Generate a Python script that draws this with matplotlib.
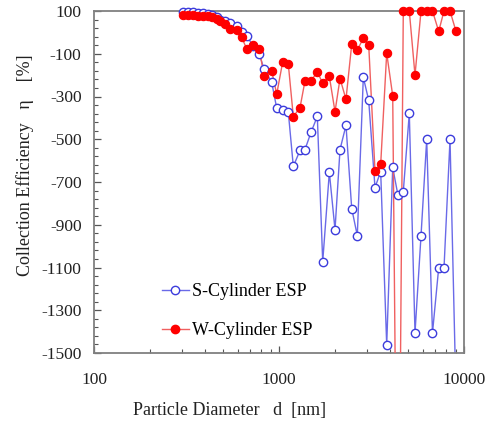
import numpy as np
import matplotlib
matplotlib.use("Agg")
import matplotlib.pyplot as plt
from matplotlib.lines import Line2D
from matplotlib.ticker import FixedLocator, LogLocator, NullFormatter

plt.rcParams['font.family'] = ['Liberation Serif', 'DejaVu Serif']

# particle diameter bins [nm]
diam = np.array([304, 323, 344, 366, 390, 415, 433, 461, 480, 511,
                 543, 591, 629, 669, 726, 783, 830, 913, 972, 1047,
                 1123, 1195, 1299, 1382, 1489, 1611, 1723, 1871, 2008, 2137,
                 2302, 2472, 2650, 2856, 3054, 3303, 3545, 3821, 4118, 4398,
                 4697, 5062, 5434, 5857, 6286, 6755, 7299, 7798, 8403, 9053])

# collection efficiency [%]
s_cyl = np.array([95, 95, 93, 91, 91, 86, 81, 72, 58, 53,
                  44, 30, 1, -17, -64, -102, -172, -233, -355, -365,
                  -374, -627, -552, -548, -468, -393, -1073, -655, -923, -548,
                  -435, -824, -951, -210, -318, -726, -651, -1462, -632, -763,
                  -745, -379, -1406, -951, -501, -1406, -1101, -1101, -501, -1700])

w_cyl = np.array([83, 83, 81, 78, 78, 75, 70, 62, 55, 39,
                  16, 11, -23, -78, -58, -78, -204, -180, -289, -138,
                  -149, -394, -352, -227, -227, -185, -238, -206, -371, -216,
                  -313, -56, -82, -28, -58, -649, -618, -97, -297, -3000,
                  100, 100, -200, 100, 100, 100, 5, 100, 100, 5])

y_ticks = [100, -100, -300, -500, -700, -900, -1100, -1300, -1500]
x_ticks = [100, 1000, 10000]

blue_line = '#6a6ae8'
blue_mk = '#3c3cdc'
red_line = '#f06060'
red_mk = '#ff0000'

fig = plt.figure(figsize=(4.9, 4.21), dpi=100)
ax = fig.add_axes([94/490, 1-353/421, 370/490, 342/421])

ymin, ymax = -1500, 100

# lines (clipped) and markers (not clipped, only in range)
ax.plot(diam, s_cyl, '-', color=blue_line, lw=1.0, zorder=2)
ax.plot(diam, w_cyl, '-', color=red_line, lw=1.0, zorder=3)
m = (s_cyl >= ymin) & (s_cyl <= ymax)
ax.plot(diam[m], s_cyl[m], 'o', ms=6, mfc='white', mec=blue_mk, mew=1.0,
        clip_on=False, zorder=4)
m = (w_cyl >= ymin) & (w_cyl <= ymax)
ax.plot(diam[m], w_cyl[m], 'o', ms=6, mfc=red_mk, mec=red_mk, mew=0.8,
        clip_on=False, zorder=5)

ax.set_xscale('log')
ax.set_xlim(100, 10000)
ax.set_ylim(ymin, ymax)
ax.set_xticks(x_ticks)
ax.set_xticklabels([str(t) for t in x_ticks])
ax.xaxis.set_minor_locator(LogLocator(base=10, subs=np.arange(2, 10)))
ax.xaxis.set_minor_formatter(NullFormatter())
ax.set_yticks(y_ticks)
ax.set_yticklabels([str(t) for t in y_ticks])
ax.yaxis.set_minor_locator(FixedLocator(np.arange(100, -1501, -40)))

ax.tick_params(which='both', direction='in', colors='#555555',
               labelcolor='#222222', labelsize=12.5, top=False, right=False)
ax.tick_params(which='major', length=5, width=0.9)
ax.tick_params(axis='y', which='major', pad=9)
ax.tick_params(axis='x', which='major', pad=14)
ax.tick_params(which='minor', length=3, width=0.8)
for s in ax.spines.values():
    s.set_color('#808080')
    s.set_linewidth(1.3)

fig.text(229.5/490, 1-410/421, 'Particle Diameter   d  [nm]',
         ha='center', va='center', fontsize=13, color='#222222')
fig.text(25/490, 1-165/421, 'Collection Efficiency   \u03b7    [%]',
         ha='center', va='center', rotation=90, fontsize=13, color='#222222')

handles = [
    Line2D([], [], color=blue_line, lw=1.0, marker='o', ms=6,
           mfc='white', mec=blue_mk),
    Line2D([], [], color=red_line, lw=1.0, marker='o', ms=6,
           mfc=red_mk, mec=red_mk),
]
ax.legend(handles, ['S-Cylinder ESP', 'W-Cylinder ESP'],
          loc='upper left', bbox_to_anchor=(0.183, 0.205), frameon=False,
          fontsize=13, handlelength=1.5, handletextpad=0.2,
          labelspacing=1.25, borderaxespad=0, borderpad=0)

fig.savefig('out.png', dpi=100)
